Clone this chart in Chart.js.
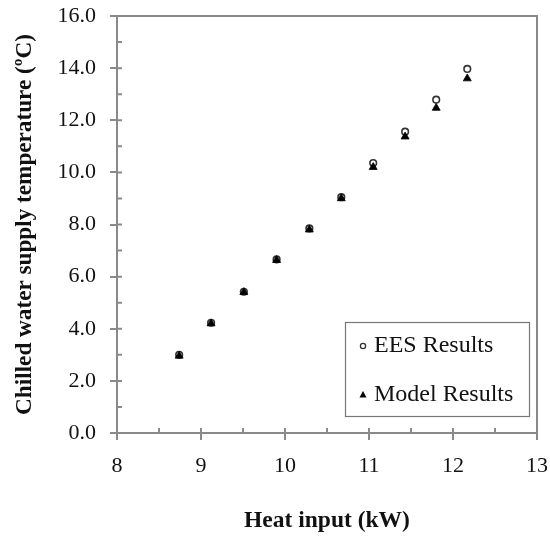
<!DOCTYPE html>
<html lang="en">
<head>
  <meta charset="UTF-8">
  <title>Chilled water supply temperature vs heat input</title>
  <script src="https://cdn.jsdelivr.net/npm/chart.js"></script>
  <style>
    html, body { margin: 0; padding: 0; background: #fff; }
    canvas { display: block; }
  </style>
</head>
<body>
  <canvas id="chart" width="550" height="542"></canvas>

  <script>
    // data
    const heatInput    = [8.74, 9.12, 9.51, 9.90, 10.29, 10.67, 11.05, 11.43, 11.80, 12.17];
    const eesResults   = [3.00, 4.23, 5.42, 6.66, 7.85, 9.05, 10.36, 11.56, 12.79, 13.97];
    const modelResults = [2.96, 4.20, 5.40, 6.63, 7.80, 9.00, 10.20, 11.37, 12.47, 13.60];
    const xTicks = [8, 9, 10, 11, 12, 13];
    const yTicks = [0, 2, 4, 6, 8, 10, 12, 14, 16];
    const seriesNames = ['EES Results', 'Model Results'];

    const axisColor = '#8a8a8a';
    const serif = '"Liberation Serif", "Times New Roman", serif';
    Chart.defaults.font.family = serif;
    Chart.defaults.color = '#111';

    // frame round the plot plus the inner half of major ticks and the minor ticks
    const frameAndTicks = {
      id: 'frameAndTicks',
      beforeDatasetsDraw(chart) {
        const { ctx, chartArea: a, scales: { x, y } } = chart;
        ctx.save();
        ctx.strokeStyle = axisColor;
        ctx.lineWidth = 2;
        ctx.strokeRect(a.left, a.top, a.right - a.left, a.bottom - a.top);
        ctx.beginPath();
        yTicks.forEach((v, i) => {
          const py = y.getPixelForValue(v);
          ctx.moveTo(a.left, py); ctx.lineTo(a.left + 5, py);
          if (i < yTicks.length - 1) {
            const m = y.getPixelForValue((v + yTicks[i + 1]) / 2);
            ctx.moveTo(a.left, m); ctx.lineTo(a.left + 5, m);
          }
        });
        xTicks.forEach((v, i) => {
          const px = x.getPixelForValue(v);
          ctx.moveTo(px, a.bottom); ctx.lineTo(px, a.bottom - 5);
          if (i < xTicks.length - 1) {
            const m = x.getPixelForValue((v + xTicks[i + 1]) / 2);
            ctx.moveTo(m, a.bottom); ctx.lineTo(m, a.bottom - 5);
          }
        });
        ctx.stroke();
        ctx.restore();
      }
    };

    // boxed legend sitting inside the plot, bottom right
    const boxLegend = {
      id: 'boxLegend',
      afterDraw(chart) {
        const { ctx, chartArea: a } = chart;
        const w = 184, h = 94;
        const left = a.right - 8 - w, top = a.bottom - 17 - h;
        ctx.save();
        ctx.fillStyle = '#fff';
        ctx.fillRect(left, top, w, h);
        ctx.strokeStyle = '#777';
        ctx.lineWidth = 1.2;
        ctx.strokeRect(left + 0.5, top + 0.5, w, h);

        const rows = [top + 24, top + 73];
        // circle
        ctx.beginPath();
        ctx.arc(left + 18, rows[0], 2.6, 0, Math.PI * 2);
        ctx.fillStyle = '#fff';
        ctx.fill();
        ctx.strokeStyle = '#333';
        ctx.lineWidth = 1.3;
        ctx.stroke();
        // triangle
        ctx.beginPath();
        ctx.moveTo(left + 18, rows[1] - 4);
        ctx.lineTo(left + 21.5, rows[1] + 2.5);
        ctx.lineTo(left + 14.5, rows[1] + 2.5);
        ctx.closePath();
        ctx.fillStyle = '#000';
        ctx.fill();

        ctx.fillStyle = '#111';
        ctx.font = '24px ' + serif;
        ctx.textBaseline = 'middle';
        ctx.textAlign = 'left';
        ctx.fillText(seriesNames[0], left + 29, rows[0]);
        ctx.fillText(seriesNames[1], left + 29, rows[1]);
        ctx.restore();
      }
    };

    const toPoints = (xs, ys) => xs.map((v, i) => ({ x: v, y: ys[i] }));

    new Chart(document.getElementById('chart'), {
      type: 'scatter',
      data: {
        datasets: [
          {
            label: seriesNames[0],
            data: toPoints(heatInput, eesResults),
            pointStyle: 'circle',
            pointRadius: 3.3,
            pointBorderWidth: 1.6,
            pointBorderColor: '#333',
            pointBackgroundColor: '#fff',
            order: 2
          },
          {
            label: seriesNames[1],
            data: toPoints(heatInput, modelResults),
            pointStyle: 'triangle',
            pointRadius: 4.6,
            pointBorderWidth: 0.8,
            pointBorderColor: '#000',
            pointBackgroundColor: '#000',
            order: 1
          }
        ]
      },
      options: {
        responsive: false,
        animation: false,
        devicePixelRatio: 1,
        layout: { padding: { top: 16, right: 13, left: 0, bottom: 0 } },
        plugins: {
          legend: { display: false },
          tooltip: { enabled: false }
        },
        scales: {
          x: {
            type: 'linear',
            min: 8, max: 13,
            afterBuildTicks: s => { s.ticks = xTicks.map(v => ({ value: v })); },
            afterFit: s => { s.height = 109; s.paddingLeft = 0; s.paddingRight = 0; },
            border: { display: false },
            grid: { drawOnChartArea: false, drawTicks: true, tickLength: 7, color: axisColor, lineWidth: 2 },
            ticks: { padding: 13, font: { size: 22 }, color: '#111' },
            title: {
              display: true,
              text: 'Heat input (kW)',
              font: { size: 23.5, weight: 'bold' },
              color: '#111',
              padding: { top: 0, bottom: 7 }
            }
          },
          y: {
            type: 'linear',
            min: 0, max: 16,
            afterBuildTicks: s => { s.ticks = yTicks.map(v => ({ value: v })); },
            afterFit: s => { s.width = 117; s.paddingTop = 0; s.paddingBottom = 0; },
            border: { display: false },
            grid: { drawOnChartArea: false, drawTicks: true, tickLength: 7, color: axisColor, lineWidth: 2 },
            ticks: {
              padding: 14,
              font: { size: 22 },
              color: '#111',
              callback: v => Number(v).toFixed(1)
            },
            title: {
              display: true,
              text: 'Chilled water supply temperature (ºC)',
              font: { size: 23.2, weight: 'bold' },
              color: '#111',
              padding: { top: 11, bottom: 0 }
            }
          }
        }
      },
      plugins: [frameAndTicks, boxLegend]
    });
  </script>
</body>
</html>
